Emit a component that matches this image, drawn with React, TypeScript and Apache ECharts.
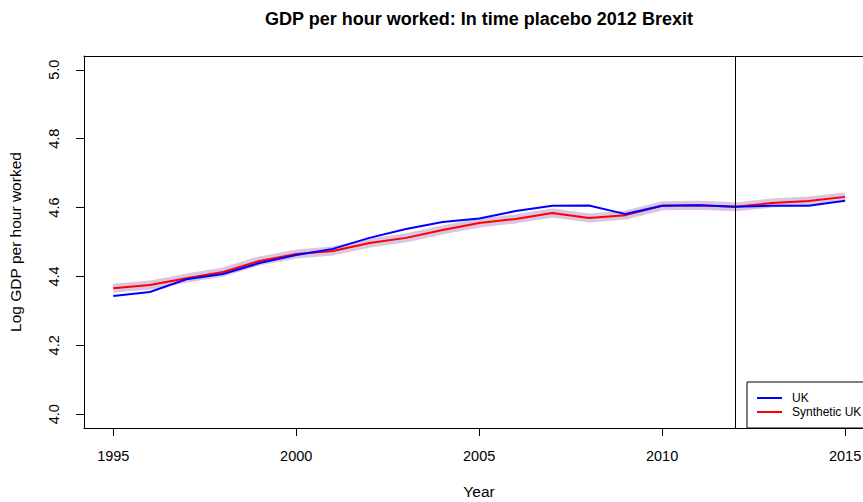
import React, { useEffect, useRef } from "react";
import * as echarts from "echarts";

const years = [1995, 1996, 1997, 1998, 1999, 2000, 2001, 2002, 2003, 2004, 2005, 2006, 2007, 2008, 2009, 2010, 2011, 2012, 2013, 2014, 2015];
const ukValues = [4.343, 4.355, 4.392, 4.407, 4.439, 4.462, 4.48, 4.512, 4.538, 4.558, 4.568, 4.59, 4.605, 4.606, 4.581, 4.605, 4.607, 4.602, 4.605, 4.605, 4.62];
const syntheticValues = [4.366, 4.375, 4.395, 4.413, 4.445, 4.465, 4.474, 4.497, 4.512, 4.535, 4.555, 4.567, 4.584, 4.57, 4.578, 4.605, 4.607, 4.602, 4.613, 4.619, 4.631];
const xTicks = [1995, 2000, 2005, 2010, 2015];
const yTicks = [4.0, 4.2, 4.4, 4.6, 4.8, 5.0];
const treatmentYear = 2012;
const legendItems = ["UK", "Synthetic UK"];

const FONT = "Liberation Sans, Arial, Helvetica, sans-serif";

export default function App() {
  const ref = useRef<HTMLDivElement>(null);
  useEffect(() => {
    if (!ref.current) return;
    const chart = echarts.init(ref.current, null, { renderer: "svg" });
    const uk = years.map((y, i) => [y, ukValues[i]]);
    const syn = years.map((y, i) => [y, syntheticValues[i]]);
    chart.setOption({
      animation: false,
      backgroundColor: "#ffffff",
      textStyle: { fontFamily: FONT },
      grid: {
        left: 84,
        right: 0,
        top: 56,
        bottom: 74,
        show: false,
        containLabel: false,
        outerBoundsMode: "none",
      },
      xAxis: [
        {
          type: "value",
          min: 1994.2,
          max: 2015.49,
          name: "Year",
          nameLocation: "middle",
          nameGap: 55,
          nameTextStyle: { fontSize: 15.5, color: "#000", fontFamily: FONT, padding: [0, 0, 0, 11] },
          axisLine: { show: true, onZero: false, lineStyle: { color: "#000", width: 1 } },
          axisTick: { show: true, inside: false, length: 8, customValues: xTicks, lineStyle: { color: "#000" } },
          axisLabel: { customValues: xTicks, fontSize: 14.5, color: "#000", margin: 20, fontFamily: FONT, formatter: (v: number) => String(v) },
          splitLine: { show: false },
        },
        {
          type: "value",
          position: "top",
          min: 1994.2,
          max: 2015.49,
          axisLine: { show: true, onZero: false, lineStyle: { color: "#000", width: 1 } },
          axisTick: { show: false },
          axisLabel: { show: false },
          splitLine: { show: false },
        },
      ],
      yAxis: {
        type: "value",
        min: 3.96,
        max: 5.04,
        name: "Log GDP per hour worked",
        nameLocation: "middle",
        nameGap: 61,
        nameRotate: 90,
        nameTextStyle: { fontSize: 15.5, color: "#000", fontFamily: FONT },
        axisLine: { show: true, onZero: false, lineStyle: { color: "#000", width: 1 } },
        axisTick: { show: true, inside: false, length: 8, customValues: yTicks, lineStyle: { color: "#000" } },
        axisLabel: {
          customValues: yTicks,
          rotate: 90,
          fontSize: 14.5,
          color: "#000",
          margin: 23,
          fontFamily: FONT,
          formatter: (v: number) => v.toFixed(1),
        },
        splitLine: { show: false },
      },
      series: [
        {
          name: "band",
          type: "line",
          data: syn,
          symbol: "none",
          silent: true,
          lineStyle: { color: "rgba(195,160,205,0.6)", width: 9, join: "round" },
          z: 1,
        },
        {
          name: legendItems[0],
          type: "line",
          data: uk,
          symbol: "none",
          lineStyle: { color: "#0000ff", width: 2 },
          z: 3,
          markLine: {
            silent: true,
            symbol: "none",
            label: { show: false },
            lineStyle: { color: "#000", width: 1, type: "solid" },
            data: [{ xAxis: treatmentYear }],
          },
        },
        {
          name: legendItems[1],
          type: "line",
          data: syn,
          symbol: "none",
          lineStyle: { color: "#ff0000", width: 2 },
          z: 2,
        },
      ],
      graphic: [
        {
          type: "text",
          x: 479,
          y: 19,
          style: {
            text: "GDP per hour worked: In time placebo 2012 Brexit",
            font: "bold 18px " + FONT,
            fill: "#000",
            align: "center",
            verticalAlign: "middle",
          },
        },
        {
          type: "group",
          z: 100,
          children: [
            { type: "rect", shape: { x: 747, y: 382, width: 200, height: 46 }, style: { fill: "#fff", stroke: "#000", lineWidth: 1 } },
            { type: "line", shape: { x1: 757, y1: 398, x2: 782, y2: 398 }, style: { stroke: "#0000ff", lineWidth: 2 } },
            { type: "line", shape: { x1: 757, y1: 412, x2: 782, y2: 412 }, style: { stroke: "#ff0000", lineWidth: 2 } },
            { type: "text", x: 792, y: 398, style: { text: legendItems[0], font: "12px " + FONT, fill: "#000", verticalAlign: "middle" } },
            { type: "text", x: 792, y: 412, style: { text: legendItems[1], font: "12px " + FONT, fill: "#000", verticalAlign: "middle" } },
          ],
        },
      ],
    });
    return () => chart.dispose();
  }, []);
  return <div ref={ref} style={{ position: "fixed", left: 0, top: 0, width: 863, height: 502 }} />;
}
